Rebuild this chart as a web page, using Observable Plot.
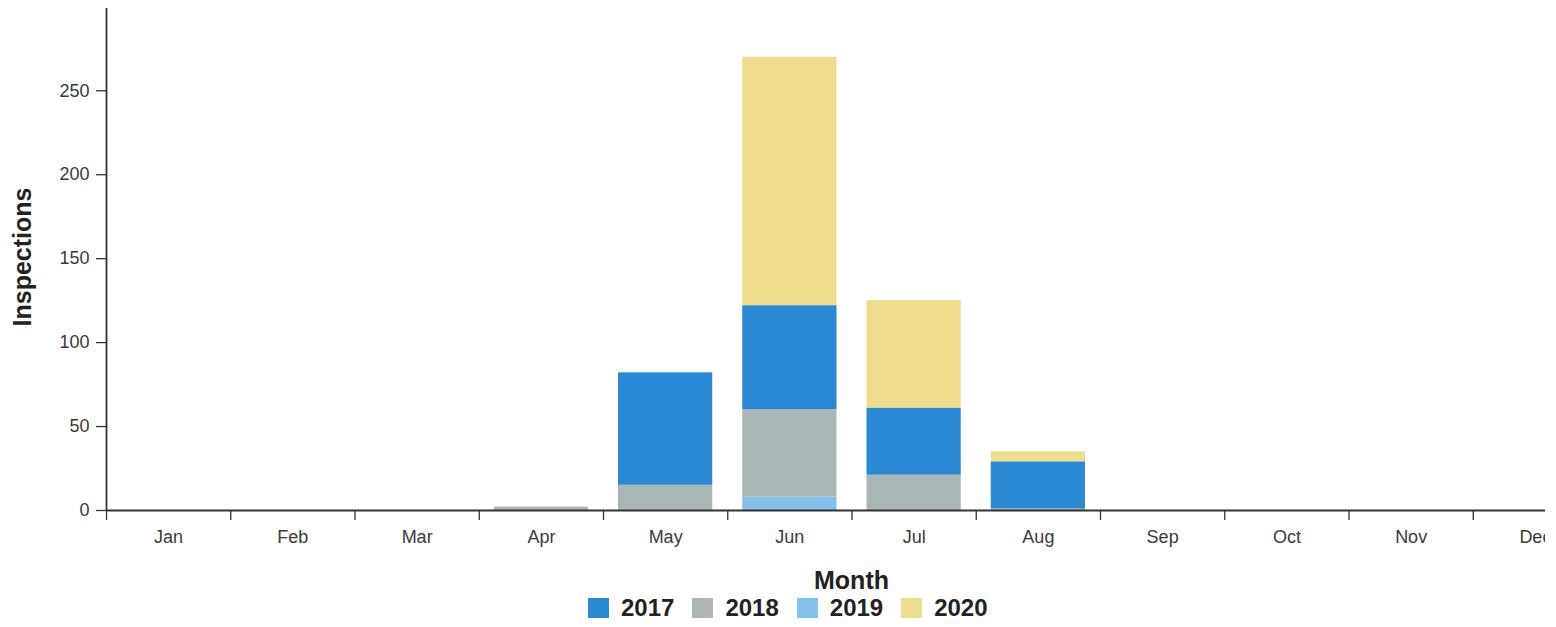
<!DOCTYPE html>
<html>
<head>
<meta charset="utf-8">
<script src="https://cdn.jsdelivr.net/npm/d3@7"></script>
<script src="https://cdn.jsdelivr.net/npm/@observablehq/plot@0.6"></script>
<style>
  html, body { margin: 0; padding: 0; background: #fff; }
  #wrap { position: relative; width: 1545px; height: 627px; overflow: hidden; font-family: "Liberation Sans", Arial, sans-serif; }
  #chart { position: absolute; left: 0; top: 0; width: 1600px; }
  #chart svg { max-width: none !important; }
  #ytitle { position: absolute; left: 22px; top: 257px; transform: translate(-50%, -50%) rotate(-90deg); white-space: nowrap; font-weight: bold; font-size: 25px; color: #222; }
  #xtitle { position: absolute; left: 0; width: 1703px; top: 566px; text-align: center; font-weight: bold; font-size: 25px; color: #222; }
  #legend { position: absolute; left: 588px; top: 608px; transform: translateY(-50%); display: flex; align-items: center; font-weight: bold; font-size: 24px; color: #222; line-height: 1; }
  #legend .item { display: flex; align-items: center; margin-right: 18px; }
  #legend .sw { width: 21px; height: 20px; margin-right: 12px; }
</style>
</head>
<body>
<div id="wrap">
  <div id="chart"></div>
  <div id="ytitle">Inspections</div>
  <div id="xtitle">Month</div>
  <div id="legend"></div>
</div>
<script>
const months = ["Jan","Feb","Mar","Apr","May","Jun","Jul","Aug","Sep","Oct","Nov","Dec"];
const years = ["2017","2018","2019","2020"];
const colors = ["#2b88d2","#aab6b6","#85c1ea","#eedd8e"];
const stackOrder = ["2019","2018","2017","2020"];
const v2017 = [0,0,0,0,67,62,40,28,0,0,0,0];
const v2018 = [0,0,0,2,15,52,21,1,0,0,0,0];
const v2019 = [0,0,0,0,0,8,0,0,0,0,0,0];
const v2020 = [0,0,0,0,0,148,64,6,0,0,0,0];
const yTicks = [0,50,100,150,200,250];

const series = {"2017": v2017, "2018": v2018, "2019": v2019, "2020": v2020};
const data = [];
for (const yr of stackOrder) {
  series[yr].forEach((v, i) => { if (v > 0) data.push({month: months[i], i, year: yr, value: v}); });
}

const chart = Plot.plot({
  width: 1600,
  height: 560,
  marginLeft: 106,
  marginRight: 3,
  marginTop: 8,
  marginBottom: 50,
  style: {fontFamily: "Liberation Sans, Arial, sans-serif", background: "#fff", color: "#333", maxWidth: "none"},
  x: {type: "linear", domain: [0, 12], axis: null},
  y: {domain: [0, 299], axis: null},
  color: {domain: years, range: colors},
  marks: [
    Plot.rectY(data, Plot.stackY({
      x1: "i",
      x2: d => d.i + 1,
      y: "value",
      fill: "year",
      order: stackOrder,
      insetLeft: 15,
      insetRight: 15
    })),
    Plot.axisY({ticks: yTicks, tickSize: 10, tickPadding: 7, fontSize: 18, label: null, stroke: "#333", strokeWidth: 1.3, fill: "#3a3a3a"}),
    Plot.axisX({ticks: d3.range(0, 13), tickSize: 10, tickFormat: () => "", label: null, stroke: "#333", strokeWidth: 1.3}),
    Plot.axisX({ticks: d3.range(0, 12).map(i => i + 0.5), tickSize: 0, tickPadding: 20, tickFormat: d => months[Math.floor(d)], fontSize: 18, fill: "#3a3a3a", label: null}),
    Plot.ruleX([0], {stroke: "#333", strokeWidth: 1.8}),
    Plot.ruleY([0], {stroke: "#333", strokeWidth: 1.8})
  ]
});
document.getElementById("chart").appendChild(chart);

const legend = document.getElementById("legend");
years.forEach((yr, k) => {
  const item = document.createElement("div");
  item.className = "item";
  const sw = document.createElement("div");
  sw.className = "sw";
  sw.style.background = colors[k];
  const t = document.createElement("span");
  t.textContent = yr;
  item.appendChild(sw);
  item.appendChild(t);
  legend.appendChild(item);
});
</script>
</body>
</html>
